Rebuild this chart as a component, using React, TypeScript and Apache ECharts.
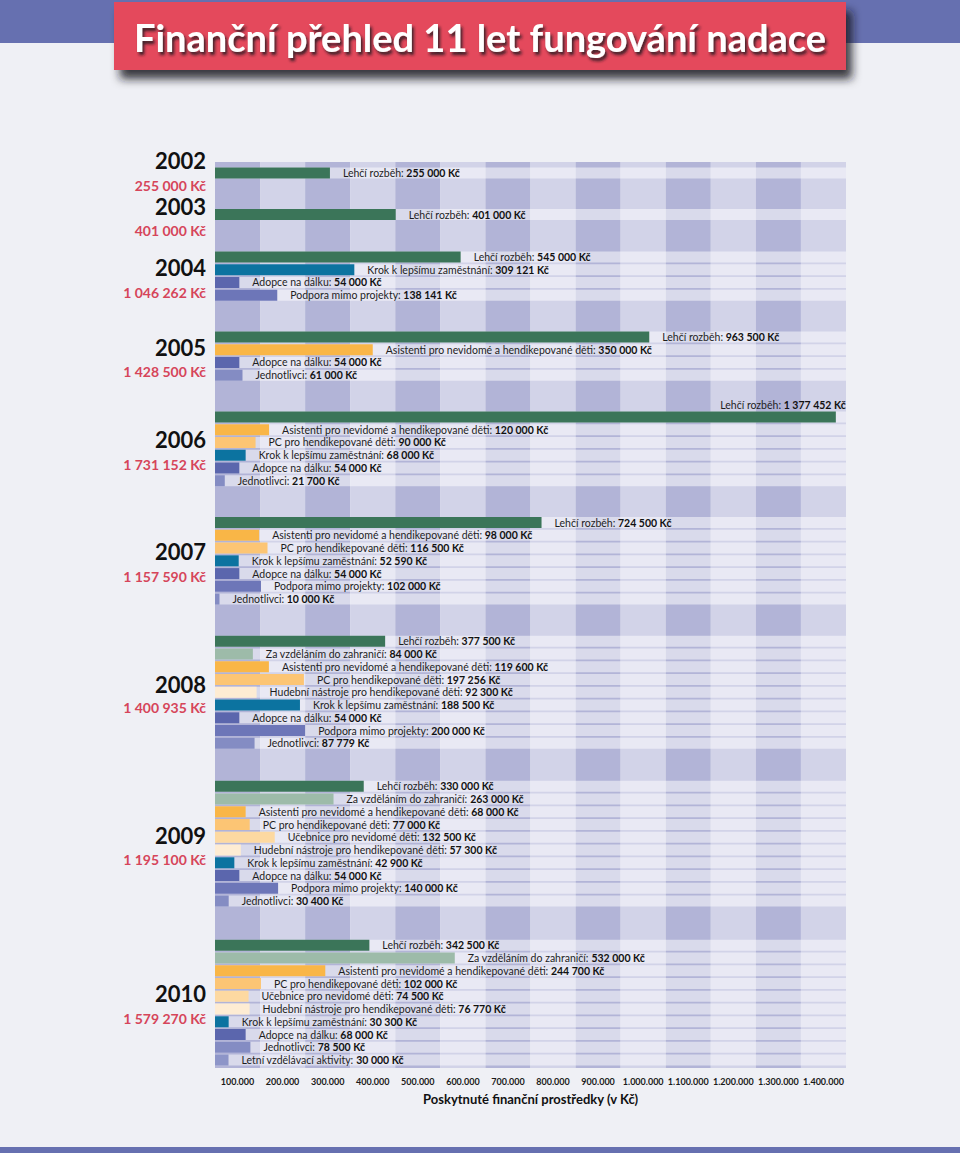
import React, { useEffect, useRef } from 'react';
import * as echarts from 'echarts';

// ---------- data ----------
const YEARS = ['2002', '2003', '2004', '2005', '2006', '2007', '2008', '2009', '2010'];

const C_LEHCI = 'Lehčí rozběh';
const C_ZA = 'Za vzděláním do zahraničí';
const C_ASIST = 'Asistenti pro nevidomé a hendikepované děti';
const C_PC = 'PC pro hendikepované děti';
const C_UCEB = 'Učebnice pro nevidomé děti';
const C_HUD = 'Hudební nástroje pro hendikepované děti';
const C_KROK = 'Krok k lepšímu zaměstnání';
const C_ADOP = 'Adopce na dálku';
const C_PODP = 'Podpora mimo projekty';
const C_JEDN = 'Jednotlivci';
const C_LETNI = 'Letní vzdělávací aktivity';

const cats2002 = [C_LEHCI];
const vals2002 = [255000];
const cats2003 = [C_LEHCI];
const vals2003 = [401000];
const cats2004 = [C_LEHCI, C_KROK, C_ADOP, C_PODP];
const vals2004 = [545000, 309121, 54000, 138141];
const cats2005 = [C_LEHCI, C_ASIST, C_ADOP, C_JEDN];
const vals2005 = [963500, 350000, 54000, 61000];
const cats2006 = [C_LEHCI, C_ASIST, C_PC, C_KROK, C_ADOP, C_JEDN];
const vals2006 = [1377452, 120000, 90000, 68000, 54000, 21700];
const cats2007 = [C_LEHCI, C_ASIST, C_PC, C_KROK, C_ADOP, C_PODP, C_JEDN];
const vals2007 = [724500, 98000, 116500, 52590, 54000, 102000, 10000];
const cats2008 = [C_LEHCI, C_ZA, C_ASIST, C_PC, C_HUD, C_KROK, C_ADOP, C_PODP, C_JEDN];
const vals2008 = [377500, 84000, 119600, 197256, 92300, 188500, 54000, 200000, 87779];
const cats2009 = [C_LEHCI, C_ZA, C_ASIST, C_PC, C_UCEB, C_HUD, C_KROK, C_ADOP, C_PODP, C_JEDN];
const vals2009 = [330000, 263000, 68000, 77000, 132500, 57300, 42900, 54000, 140000, 30400];
const cats2010 = [C_LEHCI, C_ZA, C_ASIST, C_PC, C_UCEB, C_HUD, C_KROK, C_ADOP, C_JEDN, C_LETNI];
const vals2010 = [342500, 532000, 244700, 102000, 74500, 76770, 30300, 68000, 78500, 30000];

const TICK_LABELS = [
  '100.000', '200.000', '300.000', '400.000', '500.000', '600.000', '700.000',
  '800.000', '900.000', '1.000.000', '1.100.000', '1.200.000', '1.300.000', '1.400.000',
];

const TITLE = 'Finanční přehled 11 let fungování nadace';
const AXIS_NAME = 'Poskytnuté finanční prostředky (v Kč)';

// ---------- styles / layout ----------
const COLORS: Record<string, string> = {
  [C_LEHCI]: '#3b7559',
  [C_ZA]: '#9dbba9',
  [C_ASIST]: '#f9b647',
  [C_PC]: '#fcc574',
  [C_UCEB]: '#fdd9a1',
  [C_HUD]: '#feecd3',
  [C_KROK]: '#0c73a0',
  [C_ADOP]: '#5b66ad',
  [C_PODP]: '#6d76b8',
  [C_JEDN]: '#848cc3',
  [C_LETNI]: '#8d95c8',
};

const CATS = [cats2002, cats2003, cats2004, cats2005, cats2006, cats2007, cats2008, cats2009, cats2010];
const VALS = [vals2002, vals2003, vals2004, vals2005, vals2006, vals2007, vals2008, vals2009, vals2010];

const GRID_TOPS = [166.6, 208.2, 250.6, 330.6, 410.6, 516.2, 634.9, 779.9, 938.9];
const YEAR_Y = [160, 206, 267, 347, 439, 551, 684, 835, 993];
const TOTAL_Y = [185, 230, 292, 371, 464, 576, 707, 859, 1018];
const ROW_H = 12.75;
const PLOT_LEFT = 215;
const PLOT_W = 631;
const FONT = 'Lato, "Open Sans", sans-serif';

const fmt = (v: number) => String(v).replace(/\B(?=(\d{3})+(?!\d))/g, ' ');

export default function App() {
  const ref = useRef<HTMLDivElement>(null);

  useEffect(() => {
    if (!ref.current) return;
    const chart = echarts.init(ref.current, undefined, { renderer: 'svg' });

    const grids: any[] = [
      { left: PLOT_LEFT, top: 162, width: PLOT_W, height: 906, containLabel: false },
    ];
    const xAxes: any[] = [
      {
        type: 'category',
        gridIndex: 0,
        data: TICK_LABELS,
        position: 'bottom',
        axisLine: { show: false },
        axisTick: { show: false },
        axisLabel: {
          interval: 0,
          margin: 9,
          color: '#1a1a1a',
          fontFamily: FONT,
          fontWeight: 'bold',
          fontSize: 9,
        },
        splitLine: { show: false },
        splitArea: { show: true, interval: 0, areaStyle: { color: ['#b2b4d7', '#d2d3e8'] } },
        name: AXIS_NAME,
        nameLocation: 'middle',
        nameGap: 24,
        nameTextStyle: { color: '#111', fontFamily: FONT, fontWeight: 'bold', fontSize: 13 },
      },
    ];
    const yAxes: any[] = [{ type: 'value', gridIndex: 0, show: false }];
    const series: any[] = [];
    const graphics: any[] = [];

    CATS.forEach((cats, i) => {
      const gi = i + 1;
      grids.push({ left: PLOT_LEFT, top: GRID_TOPS[i], width: PLOT_W, height: cats.length * ROW_H });
      xAxes.push({ type: 'value', gridIndex: gi, min: 0, max: 1400000, show: false });
      yAxes.push({ type: 'category', gridIndex: gi, data: cats, inverse: true, show: false });
      const vals = VALS[i];
      series.push({
        type: 'bar',
        xAxisIndex: gi,
        yAxisIndex: gi,
        barWidth: 11,
        showBackground: true,
        backgroundStyle: { color: 'rgba(255,255,255,0.5)' },
        data: vals.map((v, j) => {
          const item: any = { value: v, name: cats[j], itemStyle: { color: COLORS[cats[j]] } };
          if (v / 1400000 > 0.9) {
            item.label = { position: ['100%', 0], align: 'right', verticalAlign: 'bottom', offset: [10, -1] };
          }
          return item;
        }),
        label: {
          show: true,
          position: 'right',
          distance: 13,
          formatter: (p: any) => `{n|${p.name}: }{v|${fmt(p.value)} Kč}`,
          rich: {
            n: { fontFamily: FONT, fontSize: 10.5, color: '#1e1e1e' },
            v: { fontFamily: FONT, fontSize: 10.5, color: '#111', fontWeight: 'bold' },
          },
        },
      });

      const total = vals.reduce((a, b) => a + b, 0);
      graphics.push({
        type: 'text',
        x: 206,
        y: YEAR_Y[i],
        style: {
          text: YEARS[i],
          align: 'right',
          verticalAlign: 'middle',
          fontFamily: FONT,
          fontWeight: 'bold',
          fontSize: 22,
          lineHeight: 22,
          fill: '#111',
        },
      });
      graphics.push({
        type: 'text',
        x: 206,
        y: TOTAL_Y[i],
        style: {
          text: `${fmt(total)} Kč`,
          align: 'right',
          verticalAlign: 'middle',
          fontFamily: FONT,
          fontWeight: 'bold',
          fontSize: 14,
          lineHeight: 14,
          fill: '#d6455a',
        },
      });
    });

    graphics.unshift(
      { type: 'rect', shape: { x: 0, y: 0, width: 960, height: 43 }, style: { fill: '#6670b0' }, z: -1 },
      { type: 'rect', shape: { x: 0, y: 1147, width: 960, height: 6 }, style: { fill: '#6670b0' }, z: -1 },
      {
        type: 'rect',
        shape: { x: 114, y: 2, width: 732, height: 68 },
        style: {
          fill: '#e4485b',
          shadowBlur: 10,
          shadowColor: 'rgba(20,20,30,0.85)',
          shadowOffsetX: 6,
          shadowOffsetY: 9,
        },
      },
      {
        type: 'text',
        x: 480,
        y: 37,
        style: {
          text: TITLE,
          align: 'center',
          verticalAlign: 'middle',
          fontFamily: FONT,
          fontWeight: 'bold',
          fontSize: 38,
          fill: '#ffffff',
          textShadowColor: 'rgba(30,20,30,0.85)',
          textShadowBlur: 3,
          textShadowOffsetX: 2,
          textShadowOffsetY: 3,
        },
      }
    );

    chart.setOption({
      animation: false,
      backgroundColor: 'transparent',
      grid: grids,
      xAxis: xAxes,
      yAxis: yAxes,
      series,
      graphic: graphics,
    });

    return () => chart.dispose();
  }, []);

  return (
    <div
      style={{
        position: 'absolute',
        left: 0,
        top: 0,
        width: 960,
        height: 1153,
        background: '#eff0f5',
      }}
    >
      <div ref={ref} style={{ width: 960, height: 1153 }} />
    </div>
  );
}
